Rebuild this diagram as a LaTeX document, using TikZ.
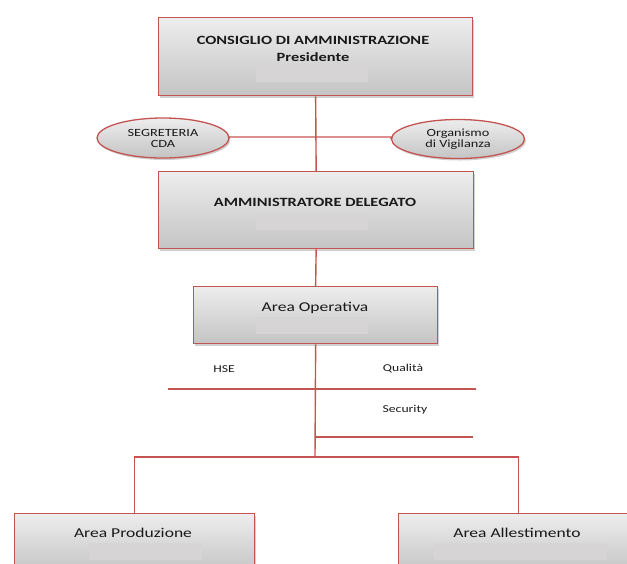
\documentclass[tikz,border=0pt]{standalone}
\usepackage{fontspec}
\setmainfont[FakeStretch=1.3]{Carlito}
\usetikzlibrary{shadows,shapes.geometric}
\definecolor{edge}{RGB}{196,84,82}
\definecolor{boxtop}{RGB}{237,237,237}
\definecolor{boxbot}{RGB}{196,196,196}
\definecolor{barcol}{RGB}{214,212,212}
\definecolor{txt}{RGB}{25,25,25}
\begin{document}
\begin{tikzpicture}[x=1pt,y=-1pt,
  box/.style={draw=edge, line width=1.3pt, top color=boxtop, bottom color=boxbot,
    drop shadow={shadow xshift=1.5pt, shadow yshift=-2pt, opacity=0.3, fill=black!60},
    inner sep=0pt, anchor=north west},
  oval/.style={ellipse, draw=edge, line width=1.3pt, top color=boxtop, bottom color=boxbot,
    drop shadow={shadow xshift=1.5pt, shadow yshift=-2pt, opacity=0.3, fill=black!60},
    inner sep=0pt, align=center, text=txt, font=\fontsize{11}{11}\selectfont},
  greybar/.style={fill=barcol, draw=none, inner sep=0pt, minimum height=17pt},
  title/.style={text=txt, inner sep=0pt, font=\bfseries\fontsize{12.6}{12.6}\selectfont},
  areatxt/.style={text=txt, inner sep=0pt, font=\fontsize{13.5}{13.5}\selectfont},
  small/.style={text=txt, inner sep=0pt, font=\fontsize{10.5}{10.5}\selectfont},
  link/.style={draw=edge, line width=1.4pt}]
\useasboundingbox (0,0) rectangle (627,563);
\clip (0,0) rectangle (627,563);
% free ends of connectors
\coordinate (l1) at (168,389);
\coordinate (r1) at (476,389);
\coordinate (c2) at (315,437);
\coordinate (r2) at (473,437);
\coordinate (bra) at (315,457);
\coordinate (sl) at (229,137);
\coordinate (sr) at (392,137);
% boxes
\node[box, minimum width=314pt, minimum height=78pt] (cda) at (158,17) {};
\node[box, minimum width=315pt, minimum height=77pt] (ad) at (158,171) {};
\node[box, minimum width=244pt, minimum height=57pt] (ao) at (193,286) {};
\node[box, minimum width=240pt, minimum height=60pt] (prod) at (14,513) {};
\node[box, minimum width=240pt, minimum height=60pt] (alle) at (398,513) {};
\node[oval, minimum width=132pt, minimum height=40pt] (segr) at (163,138) {SEGRETERIA\\CDA};
\node[oval, minimum width=133pt, minimum height=39pt] (odv) at (458,139) {Organismo\\di Vigilanza};
% connectors
\draw[link] (cda.south) -- (ad.north);
\draw[link] (segr.east) -- (sl) -- (sr) -- (odv.west);
\draw[link] (ad.south) -- (ao.north);
\draw[link] (ao.south) -- (bra);
\draw[link] (l1) -- (r1);
\draw[link] (c2) -- (r2);
\draw[link] (bra) -| (prod.north);
\draw[link] (bra) -| (alle.north);
% texts
\node[title] (t1) at (313,40) {CONSIGLIO DI AMMINISTRAZIONE};
\node[title] (t2) at (313,57) {Presidente};
\node[greybar, minimum width=112pt] (b1) at (312,73) {};
\node[title] (t3) at (315,202) {AMMINISTRATORE DELEGATO};
\node[greybar, minimum width=112pt] (b2) at (312,221) {};
\node[areatxt] (t4) at (315,308) {Area Operativa};
\node[greybar, minimum width=112pt] (b3) at (312,325) {};
\node[small] (hse) at (224,369) {HSE};
\node[small] (qual) at (403,369) {Qualità};
\node[small] (sec) at (405,410) {Security};
\node[areatxt] (t5) at (133,533) {Area Produzione};
\node[greybar, minimum width=113pt, anchor=north west] (b4) at (89,543) {};
\node[areatxt] (t6) at (517,533) {Area Allestimento};
\node[greybar, minimum width=173pt, anchor=north west] (b5) at (434,543) {};
\end{tikzpicture}
\end{document}
